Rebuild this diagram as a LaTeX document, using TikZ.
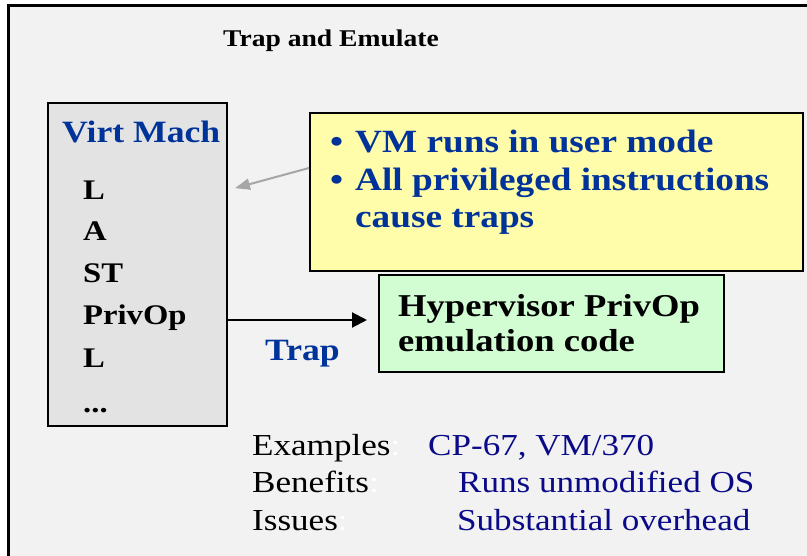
\documentclass[tikz,border=0pt]{standalone}
\usepackage{fontspec}
\setmainfont[FakeStretch=1.15]{Liberation Serif}
\usetikzlibrary{arrows.meta}

\definecolor{pagebg}{HTML}{F2F2F2}
\definecolor{vmfill}{HTML}{E3E3E3}
\definecolor{notefill}{HTML}{FFFCAA}
\definecolor{hvfill}{HTML}{D2FCD2}
\definecolor{headblue}{HTML}{003399}
\definecolor{navytext}{HTML}{0A0A88}
\definecolor{pointer}{HTML}{A6A6A6}

\tikzset{
  panel/.style={draw=black, line width=2.2pt, inner sep=0pt, anchor=north west},
  txt/.style={inner sep=0pt, anchor=base west},
  opcode/.style={txt, font=\fontsize{28.4}{30}\selectfont\bfseries},
  notetext/.style={txt, font=\fontsize{32.4}{34}\selectfont\bfseries, text=headblue},
  hvtext/.style={txt, font=\fontsize{31.8}{34}\selectfont\bfseries},
  lower/.style={txt, font=\fontsize{30.5}{32}\selectfont},
}

\begin{document}
\begin{tikzpicture}[x=1pt, y=-1pt]
  \useasboundingbox (0,0) rectangle (807,556);
  \clip (0,0) rectangle (807,556);
  \fill[white] (0,0) rectangle (807,556);

  % slide frame (open to the right and bottom)
  \draw[line width=3pt, fill=pagebg] (8,5.5) rectangle (830,580);

  % title
  \node[txt, font=\fontsize{24}{26}\selectfont\bfseries] (title) at (223,47) {Trap and Emulate};

  % virtual machine instruction stream
  \node[panel, fill=vmfill, minimum width=179pt, minimum height=323pt] (vm) at (47,102) {};
  \node[txt, font=\fontsize{31}{33}\selectfont\bfseries, text=headblue] (vmhead) at (62,143) {Virt Mach};
  \node[opcode] (op1) at (83,200) {L};
  \node[opcode] (op2) at (83,241) {A};
  \node[opcode] (op3) at (83,283) {ST};
  \node[opcode] (op4) at (83,325) {PrivOp};
  \node[opcode] (op5) at (83,368) {L};
  \node[opcode] (op6) at (83,413) {...};

  % note box
  \node[panel, fill=notefill, minimum width=493pt, minimum height=158pt] (note) at (309,112) {};
  \node[notetext] (b1) at (330,153) {\textbullet};
  \node[notetext] (n1) at (355,153) {VM runs in user mode};
  \node[notetext] (b2) at (330,191) {\textbullet};
  \node[notetext] (n2) at (355,191) {All privileged instructions};
  \node[notetext] (n3) at (355,228) {cause traps};

  % hypervisor box
  \node[panel, fill=hvfill, line width=1.6pt, minimum width=345pt, minimum height=97pt] (hv) at (378,274) {};
  \node[hvtext] (h1) at (398,317) {Hypervisor PrivOp};
  \node[hvtext] (h2) at (398,352) {emulation code};

  % connectors
  \coordinate (trapline) at (0,320);
  \draw[line width=2pt, -{Triangle[length=15pt, width=15pt]}, shorten >=11pt]
    (vm.east |- trapline) -- (hv.west |- trapline);
  \node[txt, font=\fontsize{31}{33}\selectfont\bfseries, text=headblue] (trap) at (265,361) {Trap};

  \coordinate (notestart) at (0,168);
  \coordinate (vmend) at (0,190);
  \draw[pointer, line width=2pt, -{Triangle[length=15pt, width=11pt]}, shorten >=7pt]
    (note.west |- notestart) -- (vm.east |- vmend);

  % summary lines
  \node[lower] (e1) at (252,455) {Examples\textcolor{white}{:}};
  \node[lower, text=navytext] (e2) at (428,455) {CP-67, VM/370};
  \node[lower] (f1) at (252,493) {Benefits\textcolor{white}{:}};
  \node[lower, text=navytext] (f2) at (458,493) {Runs unmodified OS};
  \node[lower] (g1) at (252,530) {Issues\textcolor{white}{:}};
  \node[lower, text=navytext] (g2) at (457,530) {Substantial overhead};
\end{tikzpicture}
\end{document}
